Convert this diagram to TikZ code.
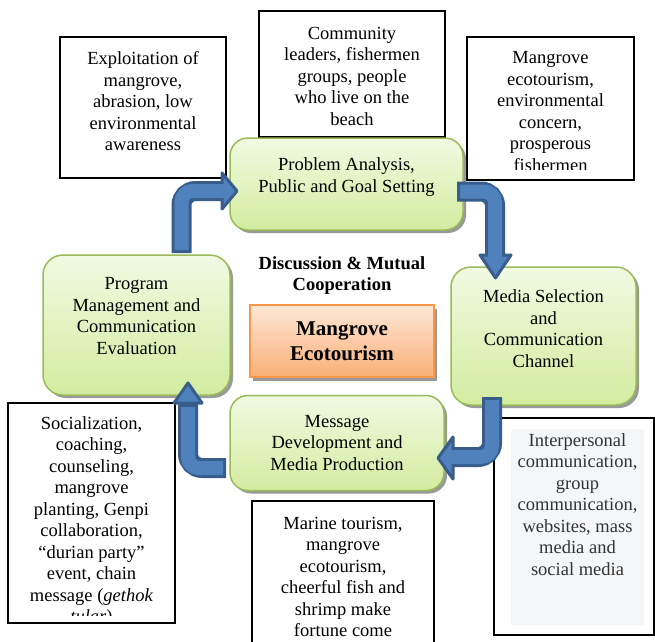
\documentclass[tikz,border=0pt]{standalone}
\usepackage{fontspec}
\setmainfont{Liberation Serif}
\usetikzlibrary{shadows}
\definecolor{gborder}{HTML}{9BBB59}
\definecolor{gtop}{HTML}{F1FAE2}
\definecolor{gbot}{HTML}{D3ECA0}
\definecolor{oborder}{HTML}{F79646}
\definecolor{otop}{HTML}{FDE7D6}
\definecolor{obot}{HTML}{FAAF76}
\definecolor{afill}{HTML}{4F81BD}
\definecolor{aline}{HTML}{385D8A}
\definecolor{fgray}{HTML}{F5F6F8}
\definecolor{ftext}{HTML}{333333}
\tikzset{
  txt/.style={align=center, inner sep=0pt, font=\fontsize{18.5}{21.5}\selectfont},
  btxt/.style={align=center, inner sep=0pt, font=\bfseries\fontsize{18.5}{21.5}\selectfont},
  bigtxt/.style={align=center, inner sep=0pt, font=\bfseries\fontsize{21}{25}\selectfont},
  greenbox/.style={draw=gborder, line width=1.5pt, rounded corners=18pt,
    top color=gtop, bottom color=gbot, inner sep=0pt,
    drop shadow={shadow xshift=3pt, shadow yshift=-3pt, fill=black!40, opacity=1}},
  orangebox/.style={draw=oborder, line width=1.5pt, top color=otop, bottom color=obot, inner sep=0pt,
    drop shadow={shadow xshift=3pt, shadow yshift=-4pt, fill=black!40, opacity=1}},
  infobox/.style={draw=black, line width=1.1pt, fill=white, inner sep=0pt},
  adark/.style={draw=aline, line width=20pt, rounded corners=14pt},
  alight/.style={draw=afill, line width=14pt, rounded corners=11pt},
  ahead/.style={fill=afill, draw=aline, line width=3pt, line join=round},
}
\begin{document}
\begin{tikzpicture}[x=1pt,y=-1pt]
\useasboundingbox (0,0) rectangle (655,641);
\fill[white] (0,0) rectangle (655,641);

% information boxes
\node[infobox, minimum width=166pt, minimum height=141pt] (boxA) at (143,107.5) {};
\node[txt] (tA) at (143,101.5) {Exploitation of\\mangrove,\\abrasion, low\\environmental\\awareness};

\node[infobox, minimum width=186pt, minimum height=126pt] (boxB) at (352,74) {};
\node[txt] (tB) at (352,76) {Community\\leaders, fishermen\\groups, people\\who live on the\\beach};

\node[infobox, minimum width=167pt, minimum height=143pt] (boxC) at (550.5,108.5) {};
\begin{scope}
\clip (467,37) rectangle (634,169);
\node[txt] (tC) at (550.5,111.5) {Mangrove\\ecotourism,\\environmental\\concern,\\prosperous\\fishermen};
\end{scope}

\node[infobox, minimum width=167pt, minimum height=220pt] (boxD) at (91.5,513) {};
\begin{scope}
\clip (8,403) rectangle (175,615);
\node[txt] (tD) at (91.5,521.5) {Socialization,\\coaching,\\counseling,\\mangrove\\planting, Genpi\\collaboration,\\“durian party”\\event, chain\\message (\textit{gethok}\\\textit{tular})};
\end{scope}

\node[infobox, minimum width=182pt, minimum height=146pt] (boxE) at (343,574) {};
\node[txt] (tE) at (343,577) {Marine tourism,\\mangrove\\ecotourism,\\cheerful fish and\\shrimp make\\fortune come};

\node[infobox, minimum width=160pt, minimum height=217pt] (boxF) at (574,526.5) {};
\node[fill=fgray, minimum width=133pt, minimum height=196pt, inner sep=0pt] (grayF) at (577.5,527) {};
\node[txt, text=ftext] (tF) at (577.5,504.5) {Interpersonal\\communication,\\group\\communication,\\websites, mass\\media and\\social media};

% process boxes
\node[greenbox, minimum width=233pt, minimum height=92pt] (g1) at (346.5,184) {};
\node[txt] (t1) at (346.5,177) {Problem Analysis,\\Public and Goal Setting};

\node[greenbox, minimum width=187pt, minimum height=140pt, rounded corners=20pt] (g2) at (136.5,325) {};
\node[txt] (t2) at (136.5,316) {Program\\Management and\\Communication\\Evaluation};

\node[greenbox, minimum width=185pt, minimum height=138pt, rounded corners=20pt] (g3) at (543.5,336) {};
\node[txt] (t3) at (543.5,328.5) {Media Selection\\and\\Communication\\Channel};

\node[greenbox, minimum width=214pt, minimum height=95pt] (g4) at (337,443) {};
\node[txt] (t4) at (337,443) {Message\\Development and\\Media Production};

% centre
\node[btxt] (disc) at (342,275.5) {Discussion \& Mutual\\Cooperation};
\node[orangebox, minimum width=184pt, minimum height=72pt] (core) at (342,341) {};
\node[bigtxt] (coretxt) at (342,341.5) {Mangrove\\Ecotourism};

% arrow 1: g2 -> g1
\coordinate (a1s) at (181.5,253);
\coordinate (a1b) at (222,191);
\draw[adark] (a1s) |- (a1b);
\filldraw[ahead] (222,173) -- (237,191) -- (222,209) -- cycle;
\draw[alight] (181.5,250) |- (226,191);

% arrow 2: g1 -> g3
\coordinate (a2s) at (457,191.5);
\coordinate (a2b) at (495,255);
\draw[adark] (a2s) -| (a2b);
\filldraw[ahead] (480,255) -- (495.5,278) -- (511,255) -- cycle;
\draw[alight] (460,191.5) -| (495,259);

% arrow 3: g3 -> g4
\coordinate (a3s) at (492,397);
\coordinate (a3b) at (453,457);
\draw[adark] (a3s) |- (a3b);
\filldraw[ahead] (453,437) -- (438,458) -- (453,479) -- cycle;
\draw[alight] (492,400) |- (449,457);

% arrow 4: g4 -> g2
\coordinate (a4s) at (226,468);
\coordinate (a4b) at (188,403);
\draw[adark] (a4s) -| (a4b);
\filldraw[ahead] (174,403) -- (188,383) -- (202,403) -- cycle;
\draw[alight] (223,468) -| (188,407);
\end{tikzpicture}
\end{document}
